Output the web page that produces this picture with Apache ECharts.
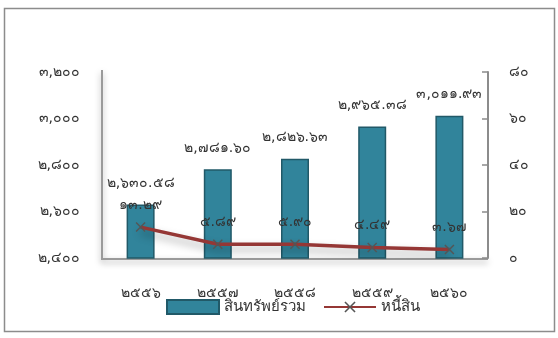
<!DOCTYPE html>
<html><head><meta charset="utf-8">
<script src="https://cdn.jsdelivr.net/npm/echarts@6/dist/echarts.min.js"></script>
<style>html,body{margin:0;padding:0;background:#fff}#c{width:558px;height:338px}</style>
</head><body><div id="c"></div>
<script>
var categories = ['2556','2557','2558','2559','2560'];
var assets = [2630.58, 2781.60, 2826.63, 2965.38, 3011.93];
var liabilities = [13.29, 5.89, 5.90, 4.49, 3.67];
var leftTicks = [2400, 2600, 2800, 3000, 3200];
var rightTicks = [0, 20, 40, 60, 80];

var TH = '๐๑๒๓๔๕๖๗๘๙';
function thai(s){ return String(s).replace(/[0-9]/g, function(d){return TH[+d];}); }
function fmt(v, dec){
  var s = v.toFixed(dec);
  var p = s.split('.');
  p[0] = p[0].replace(/\B(?=(\d{3})+(?!\d))/g, ',');
  return thai(p.join('.'));
}
var font = 'Tahoma, "DejaVu Sans", sans-serif';
var chart = echarts.init(document.getElementById('c'));
chart.setOption({
  animation: false,
  textStyle: {fontFamily: font},
  graphic: [
    {type:'rect', shape:{x:4.5,y:8.5,width:550,height:323}, style:{fill:'none', stroke:'#8c8c8c', lineWidth:1.5}},
    {type:'polyline', shape:{points:[[102,70],[102,259],[488,259]]}, style:{stroke:'#9a9a9a', lineWidth:2, fill:'none', shadowBlur:6, shadowColor:'rgba(0,0,0,0.35)', shadowOffsetY:3}}
  ],
  grid: {left:102, right:70, top:72, bottom:80},
  legend: {
    bottom: 18, left: 161, itemGap: 17, itemWidth: 52, itemHeight: 14,
    textStyle: {fontSize: 15, color:'#333', fontFamily: font, padding:[6,0,0,0]},
    data: [
      {name:'สินทรัพย์รวม', icon:'rect'},
      {name:'หนี้สิน'}
    ]
  },
  xAxis: {
    type:'category', data: categories,
    axisLine:{show:false}, axisTick:{show:false},
    axisLabel:{formatter: function(v){return thai(v);}, fontSize:14, color:'#333', margin:28}
  },
  yAxis: [
    {type:'value', min:2400, max:3200, interval:200,
     axisLine:{show:false}, axisTick:{show:false}, splitLine:{show:false},
     axisLabel:{formatter:function(v){return fmt(v,0);}, fontSize:14, color:'#333', margin:22}},
    {type:'value', min:0, max:80, interval:20, position:'right',
     axisLine:{show:true, lineStyle:{color:'#8c8c8c', width:2}}, axisTick:{show:true, inside:true, length:6, lineStyle:{color:'#8c8c8c', width:1.5}},
     splitLine:{show:false},
     axisLabel:{formatter:function(v){return thai(v);}, fontSize:14, color:'#333', margin:21}}
  ],
  series: [
    {name:'สินทรัพย์รวม', type:'bar', data: assets, barWidth: 28,
     itemStyle:{color:'#31849b', borderColor:'#215968', borderWidth:1.5},
     label:{show:true, position:'top', distance:14, color:'#333', fontSize:14,
       formatter:function(p){return fmt(p.value,2);}}},
    {name:'หนี้สิน', type:'line', yAxisIndex:1, data: liabilities,
     symbol:'path://M0,1L1,0L5,4L9,0L10,1L6,5L10,9L9,10L5,6L1,10L0,9L4,5Z', symbolSize:10,
     itemStyle:{color:'#555'},
     lineStyle:{color:'#953735', width:3.5, shadowBlur:8, shadowColor:'rgba(0,0,0,0.35)', shadowOffsetY:5},
     label:{show:true, position:'top', distance:10, color:'#333', fontSize:14,
       formatter:function(p){return fmt(p.value,2);}}}
  ]
});
</script></body></html>
